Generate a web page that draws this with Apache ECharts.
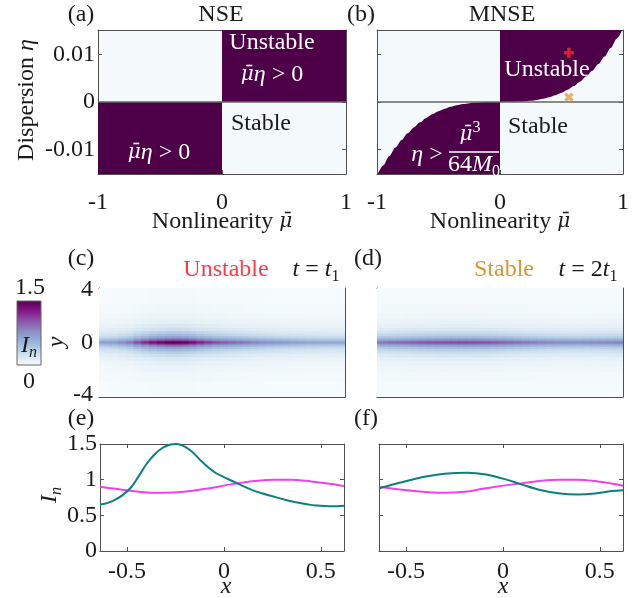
<!DOCTYPE html>
<html><head><meta charset="utf-8">
<script src="https://cdn.jsdelivr.net/npm/echarts@6/dist/echarts.min.js"></script>
<style>html,body{margin:0;padding:0;background:#fff}#c{width:636px;height:598px}</style>
</head><body><div id="c"></div>
<script>
// ---------------- data ----------------
// (a) NSE: unstable regions (boundary along eta = 0)
const nseUpperBoundary = [[0, 0], [1, 0]];
const nseLowerBoundary = [[-1, 0], [0, 0]];
// (b) MNSE: boundary curve eta = mu^3/(64 M0)
const mnseMuPos  = [0, 0.05, 0.1, 0.15, 0.2, 0.25, 0.3, 0.35, 0.4, 0.45, 0.5, 0.55, 0.6, 0.65, 0.7, 0.75, 0.8, 0.85, 0.9, 0.95, 1.0];
const mnseEtaPos = [0, 0.000002, 0.000016, 0.000053, 0.000125, 0.000244, 0.000422, 0.00067, 0.001, 0.001424, 0.001953, 0.0026, 0.003375, 0.00429, 0.00536, 0.00659, 0.008, 0.0096, 0.0114, 0.0134, 0.0156];
const mnseMuNeg  = [-1.0, -0.95, -0.9, -0.85, -0.8, -0.75, -0.7, -0.65, -0.6, -0.55, -0.5, -0.45, -0.4, -0.35, -0.3, -0.25, -0.2, -0.15, -0.1, -0.05, 0];
const mnseEtaNeg = [-0.0156, -0.0134, -0.0114, -0.0096, -0.008, -0.00659, -0.00536, -0.00429, -0.003375, -0.0026, -0.001953, -0.001424, -0.001, -0.00067, -0.000422, -0.000244, -0.000125, -0.000053, -0.000016, -0.000002, 0];
const unstablePoint = [0.56, 0.0104];
const stablePoint   = [0.56, 0.001];
// (c),(d) heat maps: intensity along y=0 vs x, and relative cross-section in y
const heatX = [-0.64,-0.60,-0.56,-0.52,-0.48,-0.44,-0.40,-0.36,-0.32,-0.28,-0.24,-0.20,-0.16,-0.12,-0.08,-0.04,0.00,0.04,0.08,0.12,0.16,0.20,0.24,0.28,0.32,0.36,0.40,0.44,0.48,0.52,0.56,0.60];
const centerC = [0.65,0.68,0.72,0.80,0.89,1.07,1.22,1.35,1.43,1.49,1.50,1.46,1.38,1.26,1.16,1.08,1.03,0.98,0.935,0.885,0.84,0.80,0.77,0.74,0.715,0.69,0.67,0.65,0.64,0.63,0.625,0.628];
const centerD = [0.877,0.91,0.945,0.97,0.995,1.02,1.045,1.065,1.08,1.09,1.095,1.097,1.095,1.085,1.07,1.045,1.013,0.98,0.945,0.91,0.875,0.85,0.83,0.81,0.80,0.793,0.792,0.797,0.807,0.822,0.838,0.848];
const rowEdges   = [0, 0.08, 0.16, 0.26, 0.38, 0.52, 0.7, 0.9, 1.15, 1.45, 1.8, 2.3, 3.0, 4.2];
const rowProfile = [1.0, 0.88, 0.72, 0.56, 0.44, 0.34, 0.25, 0.18, 0.12, 0.08, 0.05, 0.03, 0.012];
// (e),(f) line profiles
const tealEx = [-0.64,-0.60,-0.56,-0.52,-0.48,-0.44,-0.40,-0.36,-0.32,-0.28,-0.245,-0.20,-0.16,-0.12,-0.08,-0.04,0.00,0.04,0.08,0.12,0.16,0.20,0.24,0.28,0.32,0.36,0.40,0.44,0.48,0.52,0.56,0.62];
const tealEy = [0.65,0.675,0.72,0.79,0.89,1.05,1.22,1.35,1.44,1.49,1.50,1.46,1.38,1.27,1.17,1.09,1.035,0.985,0.935,0.885,0.84,0.805,0.775,0.745,0.715,0.69,0.67,0.65,0.638,0.63,0.626,0.635];
const magEx = [-0.64,-0.498,-0.395,-0.308,-0.205,-0.084,0.037,0.158,0.262,0.348,0.451,0.555,0.62];
const magEy = [0.90,0.85,0.82,0.815,0.83,0.877,0.934,0.98,1.0,1.0,0.975,0.94,0.91];
const tealFx = [-0.64,-0.579,-0.492,-0.406,-0.302,-0.181,-0.095,0.009,0.095,0.181,0.285,0.389,0.475,0.561,0.62];
const tealFy = [0.877,0.924,0.985,1.04,1.083,1.097,1.075,1.008,0.934,0.863,0.81,0.792,0.806,0.84,0.853];
const magFx = [-0.64,-0.492,-0.302,-0.198,-0.095,0.095,0.285,0.389,0.475,0.561,0.62];
const magFy = [0.90,0.85,0.815,0.83,0.876,0.948,1.0,1.0,0.98,0.945,0.915];
// tick labels
const ticksMu = [-1, 0, 1];
const ticksEta = [-0.01, 0, 0.01];
const ticksX = [-0.5, 0, 0.5];
const ticksY = [-4, 0, 4];
const ticksI = [0, 0.5, 1, 1.5];

// ---------------- style ----------------
const FONT = 'Liberation Serif';
const FS = 24;
const AX = '#505050';
const DARK = '#4d0047';
const LIGHT = '#f4fafc';
const TEAL = '#0b8080';
const MAG = '#f040e6';
const CMAP = ['#f7fcfd', '#cfe0ef', '#9fbadc', '#8b95c8', '#8c5cad', '#86198a', '#560050'];

const zip = (a, b) => a.map((v, i) => [v, b[i]]);

function axesFor(gi, xmin, xmax, xt, ymin, ymax, yt, xl, yl, xm, ym) {
  const line = {show: true, onZero: false, lineStyle: {color: AX, width: 1}};
  const lab = (show, ticks, m) => ({show, customValues: ticks, color: '#1a1a1a', fontFamily: FONT, fontSize: FS, margin: m});
  const tick = ticks => ({show: true, inside: true, length: 4, customValues: ticks, lineStyle: {color: AX}});
  return {
    x: [
      {type: 'value', gridIndex: gi, min: xmin, max: xmax, position: 'bottom', axisLine: line, axisTick: tick(xt), axisLabel: lab(xl, xt, xm), splitLine: {show: false}},
      {type: 'value', gridIndex: gi, min: xmin, max: xmax, position: 'top', axisLine: line, axisTick: tick(xt), axisLabel: {show: false}, splitLine: {show: false}}
    ],
    y: [
      {type: 'value', gridIndex: gi, min: ymin, max: ymax, position: 'left', axisLine: line, axisTick: tick(yt), axisLabel: lab(yl, yt, ym), splitLine: {show: false}},
      {type: 'value', gridIndex: gi, min: ymin, max: ymax, position: 'right', axisLine: line, axisTick: tick(yt), axisLabel: {show: false}, splitLine: {show: false}}
    ]
  };
}

const grids = [
  {left: 98, top: 30, width: 248, height: 144, show: true, backgroundColor: LIGHT, borderWidth: 0},
  {left: 377, top: 30, width: 246, height: 144, show: true, backgroundColor: LIGHT, borderWidth: 0},
  {left: 99, top: 288, width: 246, height: 109},
  {left: 377, top: 288, width: 246, height: 109},
  {left: 100, top: 444, width: 244, height: 107},
  {left: 379, top: 444, width: 244, height: 107}
];
const axs = [
  axesFor(0, -1, 1, ticksMu, -0.0152, 0.0152, ticksEta, true, true, 17, 3),
  axesFor(1, -1, 1, ticksMu, -0.0152, 0.0152, ticksEta, true, false, 17, 3),
  axesFor(2, -0.64, 0.62, ticksX, -4.15, 4.15, ticksY, false, true, 8, 6),
  axesFor(3, -0.64, 0.62, ticksX, -4.15, 4.15, ticksY, false, false, 8, 6),
  axesFor(4, -0.64, 0.62, ticksX, 0, 1.5, ticksI, true, true, 9, 3),
  axesFor(5, -0.64, 0.62, ticksX, 0, 1.5, ticksI, true, false, 9, 3)
];
const xAxis = [], yAxis = [];
axs.forEach(a => { xAxis.push(...a.x); yAxis.push(...a.y); });

function areaSeries(g, data, origin) {
  return {type: 'line', xAxisIndex: 2 * g, yAxisIndex: 2 * g, data, symbol: 'none', smooth: 0.3, smoothMonotone: 'x',
    lineStyle: {width: 0, color: DARK}, itemStyle: {color: DARK}, areaStyle: {color: DARK, opacity: 1, origin}, clip: true, silent: true, z: 2};
}
function zeroLine(g) {
  return {type: 'line', xAxisIndex: 2 * g, yAxisIndex: 2 * g, data: [[-1, 0], [1, 0]], symbol: 'none',
    lineStyle: {width: 1.3, color: '#666'}, silent: true, z: 3};
}
function buildCells(center) {
  const half = (heatX[1] - heatX[0]) / 2;
  const out = [];
  heatX.forEach((xc, i) => {
    for (let r = 0; r < rowProfile.length; r++) {
      const v = center[i] * rowProfile[r];
      out.push([xc - half, xc + half, rowEdges[r], rowEdges[r + 1], v]);
      out.push([xc - half, xc + half, -rowEdges[r + 1], -rowEdges[r], v]);
    }
  });
  return out;
}
function renderCell(params, api) {
  const p0 = api.coord([api.value(0), api.value(3)]);
  const p1 = api.coord([api.value(1), api.value(2)]);
  const cs = params.coordSys;
  const shape = echarts.graphic.clipRectByRect(
    {x: p0[0] - 0.4, y: p0[1] - 0.4, width: p1[0] - p0[0] + 0.8, height: p1[1] - p0[1] + 0.8},
    {x: cs.x, y: cs.y, width: cs.width, height: cs.height});
  return shape && {type: 'rect', shape, style: {fill: api.visual('color')}};
}
function heatSeries(g, center) {
  return {type: 'custom', xAxisIndex: 2 * g, yAxisIndex: 2 * g, data: buildCells(center), renderItem: renderCell,
    encode: {x: [0, 1], y: [2, 3]}, silent: true, z: 1};
}
function lineSeries(g, xs, ys, color) {
  return {type: 'line', xAxisIndex: 2 * g, yAxisIndex: 2 * g, data: zip(xs, ys), symbol: 'none', smooth: 0.35,
    lineStyle: {width: 2, color}, itemStyle: {color}, clip: true, silent: true, z: 3};
}
const PLUS = 'path://M2,0H4V2H6V4H4V6H2V4H0V2H2Z';

const series = [
  areaSeries(0, nseUpperBoundary, 'end'),
  areaSeries(0, nseLowerBoundary, 'start'),
  zeroLine(0),
  areaSeries(1, zip(mnseMuPos, mnseEtaPos), 'end'),
  areaSeries(1, zip(mnseMuNeg, mnseEtaNeg), 'start'),
  zeroLine(1),
  {type: 'scatter', xAxisIndex: 2, yAxisIndex: 2, data: [unstablePoint], symbol: PLUS, symbolSize: 10, itemStyle: {color: '#ff2a2a'}, z: 5, silent: true},
  {type: 'scatter', xAxisIndex: 2, yAxisIndex: 2, data: [stablePoint], symbol: PLUS, symbolSize: 10, symbolRotate: 45, itemStyle: {color: '#d9a040'}, z: 5, silent: true},
  heatSeries(2, centerC),
  heatSeries(3, centerD),
  lineSeries(4, magEx, magEy, MAG),
  lineSeries(4, tealEx, tealEy, TEAL),
  lineSeries(5, magFx, magFy, MAG),
  lineSeries(5, tealFx, tealFy, TEAL)
];

const rich = {
  i: {fontStyle: 'italic', fontFamily: FONT, fontSize: FS, lineHeight: 30},
  n: {fontFamily: FONT, fontSize: FS, lineHeight: 30},
  mu: {fontStyle: 'italic', fontFamily: 'DejaVu Serif', fontSize: 20, lineHeight: 30},
  sb: {fontFamily: FONT, fontSize: 16, lineHeight: 16, verticalAlign: 'bottom'},
  sbi: {fontFamily: FONT, fontSize: 16, fontStyle: 'italic', lineHeight: 16, verticalAlign: 'bottom'},
  sp: {fontFamily: FONT, fontSize: 16, lineHeight: 16, verticalAlign: 'top'}
};
function txt(x, y, text, fill, opts) {
  opts = opts || {};
  const f = fill || '#1a1a1a';
  return {type: 'text', x, y, rotation: opts.rot || 0, z: 100, silent: true,
    style: {text, fill: f, fontFamily: FONT, fontSize: opts.fs || FS, fontStyle: opts.it ? 'italic' : 'normal',
      align: 'center', verticalAlign: 'middle', rich: Object.fromEntries(Object.entries(rich).map(([k, v]) => [k, Object.assign({}, v, {fill: f})]))}};
}

const graphic = [
  txt(81, 15, '(a)'), txt(361, 15, '(b)'), txt(221, 15, 'NSE'), txt(502, 15, 'MNSE'),
  txt(27, 100, '{n|Dispersion }{i|η}', null, {rot: Math.PI / 2}),
  txt(222, 222, '{n|Nonlinearity }{mu|μ̄}'), txt(500, 222, '{n|Nonlinearity }{mu|μ̄}'),
  txt(272, 43, 'Unstable', '#ffffff'), txt(272, 75, '{mu|μ̄}{i|η}{n| > 0}', '#ffffff'),
  txt(261, 124, 'Stable'), txt(159, 153, '{mu|μ̄}{i|η}{n| > 0}', '#ffffff'),
  txt(547, 70, 'Unstable', '#ffffff'), txt(538, 127, 'Stable'),
  txt(427, 155, '{i|η}{n| >}', '#ffffff'),
  txt(470, 135, '{mu|μ̄}{sp|3}', '#ffffff'),
  {type: 'line', z: 100, silent: true, shape: {x1: 449, y1: 152, x2: 499, y2: 152}, style: {stroke: '#ffffff', lineWidth: 1.5}},
  txt(474, 165, '{n|64}{i|M}{sb|0}', '#ffffff'),
  txt(81, 259, '(c)'), txt(368, 259, '(d)'),
  txt(226, 270, 'Unstable', '#ff3b4a'), txt(316, 270, '{i|t}{n| = }{i|t}{sb|1}'),
  txt(504, 270, 'Stable', '#d9962e'), txt(588, 270, '{i|t}{n| = 2}{i|t}{sb|1}'),
  {type: 'rect', z: 90, silent: true, shape: {x: 17, y: 301, width: 24, height: 64},
    style: {stroke: '#666', lineWidth: 1, fill: new echarts.graphic.LinearGradient(0, 1, 0, 0, CMAP.map((c, i) => ({offset: i / (CMAP.length - 1), color: c})))}},
  txt(30, 288, '1.5'), txt(29, 382, '0'),
  txt(29, 346, '{i|I}{sbi|n}'),
  txt(57, 342, 'y', null, {rot: Math.PI / 2, it: true}),
  txt(81, 419, '(e)'), txt(366, 419, '(f)'),
  txt(50, 495, '{i|I}{sbi|n}', null, {rot: Math.PI / 2}),
  txt(226, 587, 'x', null, {it: true}), txt(503, 587, 'x', null, {it: true})
];

const chart = echarts.init(document.getElementById('c'), null, {renderer: 'canvas'});
chart.setOption({
  animation: false,
  backgroundColor: '#ffffff',
  grid: grids,
  xAxis, yAxis,
  visualMap: {type: 'continuous', show: false, min: 0, max: 1.5, dimension: 4, seriesIndex: [8, 9], inRange: {color: CMAP}},
  series,
  graphic
});
</script></body></html>
